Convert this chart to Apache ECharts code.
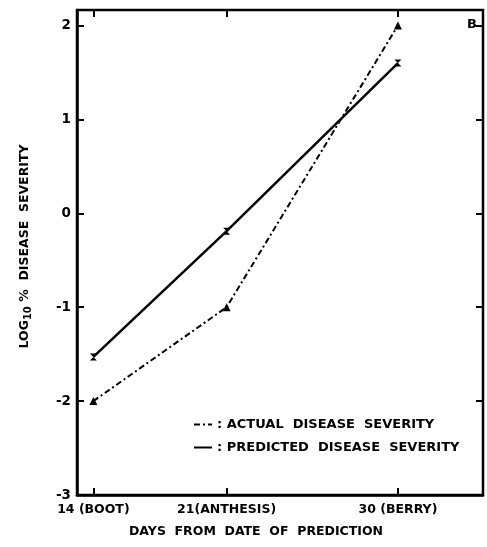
<!DOCTYPE html>
<html>
<head>
<meta charset="utf-8">
<script src="https://cdn.jsdelivr.net/npm/echarts@6/dist/echarts.min.js"></script>
<style>html,body{margin:0;padding:0;background:#fff}#c{width:487px;height:547px}</style>
</head>
<body>
<div id="c"></div>
<script>
const days = [14, 21, 30];
const xTickLabels = {14: '14 (BOOT)', 21: '21(ANTHESIS)', 30: '30 (BERRY)'};
const yTicks = [-3, -2, -1, 0, 1, 2];
const actual = [-2.0, -1.0, 2.0];
const predicted = [-1.53, -0.19, 1.6];
const actualName = 'ACTUAL  DISEASE  SEVERITY';
const predictedName = 'PREDICTED  DISEASE  SEVERITY';

const FONT = 'DejaVu Sans';
const chart = echarts.init(document.getElementById('c'), null, {renderer: 'canvas'});
const tickStyle = {inside: true, length: 7, lineStyle: {color: '#000', width: 2}};
const xMin = 13.14, xMax = 34.47, yMin = -3, yMax = 2.165;

chart.setOption({
  animation: false,
  backgroundColor: '#fff',
  grid: {left: 77, right: 4, top: 10, bottom: 52, show: true, borderColor: '#000', borderWidth: 2.5, backgroundColor: 'transparent'},
  xAxis: [{
    type: 'value', min: xMin, max: xMax, position: 'bottom',
    axisLine: {show: true, onZero: false, lineStyle: {color: '#000', width: 2.5}},
    axisTick: Object.assign({customValues: days}, tickStyle),
    axisLabel: {customValues: days, formatter: v => xTickLabels[v] || '', margin: 8,
      color: '#000', fontFamily: FONT, fontWeight: 'bold', fontSize: 12.5},
    splitLine: {show: false},
    name: 'DAYS  FROM  DATE  OF  PREDICTION', nameLocation: 'middle', nameGap: 30,
    nameTextStyle: {color: '#000', fontFamily: FONT, fontWeight: 'bold', fontSize: 12.5, padding: [0, 48, 0, 0]}
  }, {
    type: 'value', min: xMin, max: xMax, position: 'top',
    axisLine: {show: false, onZero: false},
    axisTick: Object.assign({customValues: days}, tickStyle),
    axisLabel: {show: false}, splitLine: {show: false}
  }],
  yAxis: [{
    type: 'value', min: yMin, max: yMax, position: 'left',
    axisLine: {show: true, onZero: false, lineStyle: {color: '#000', width: 2.5}},
    axisTick: Object.assign({customValues: yTicks}, tickStyle),
    axisLabel: {customValues: yTicks, margin: 6, color: '#000', fontFamily: FONT, fontWeight: 'bold', fontSize: 13.5},
    splitLine: {show: false},
    name: '{a|LOG}{s|10}{a| %  DISEASE  SEVERITY}', nameLocation: 'middle', nameGap: 44,
    nameTextStyle: {
      rich: {
        a: {color: '#000', fontFamily: FONT, fontWeight: 'bold', fontSize: 12.5},
        s: {color: '#000', fontFamily: FONT, fontWeight: 'bold', fontSize: 10, padding: [6, 0, 0, 0]}
      },
      padding: [0, 0, 0, 12]
    }
  }, {
    type: 'value', min: yMin, max: yMax, position: 'right',
    axisLine: {show: false, onZero: false},
    axisTick: Object.assign({customValues: yTicks}, tickStyle),
    axisLabel: {show: false}, splitLine: {show: false}
  }],
  legend: {
    orient: 'vertical', left: 188, top: 413, itemGap: 10, itemWidth: 18, itemHeight: 14,
    data: [actualName, predictedName],
    itemStyle: {opacity: 0},
    formatter: n => ': ' + n,
    textStyle: {color: '#000', fontFamily: FONT, fontWeight: 'bold', fontSize: 13}
  },
  graphic: [{
    type: 'text', right: 10, top: 18,
    style: {text: 'B', fill: '#000', font: 'bold 13px "DejaVu Sans"'}
  }],
  series: [{
    name: actualName, type: 'line',
    data: days.map((d, i) => [d, actual[i]]),
    symbol: 'triangle', symbolSize: 8,
    itemStyle: {color: '#000'},
    lineStyle: {color: '#000', width: 2, type: [6, 3, 2, 3]}
  }, {
    name: predictedName, type: 'line',
    data: days.map((d, i) => [d, predicted[i]]),
    symbol: 'path://M0,0L10,0L0,10L10,10Z', symbolSize: 7,
    itemStyle: {color: '#000'},
    lineStyle: {color: '#000', width: 2.5, type: 'solid'}
  }]
});
</script>
</body>
</html>
